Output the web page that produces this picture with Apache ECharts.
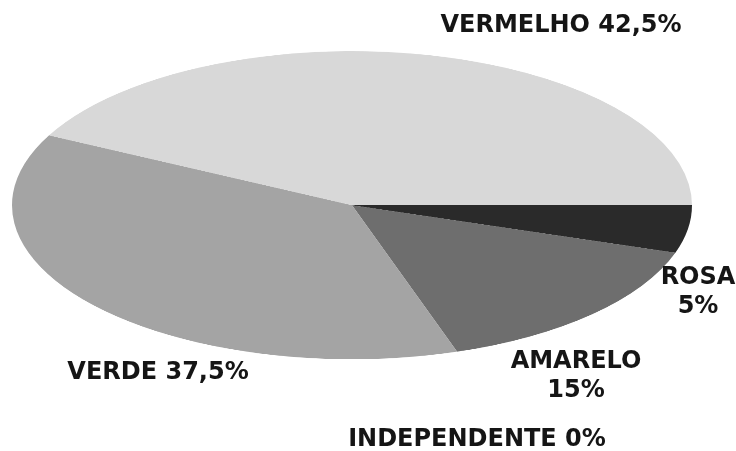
<!DOCTYPE html>
<html><head><meta charset="utf-8">
<script src="https://cdn.jsdelivr.net/npm/echarts@6/dist/echarts.min.js"></script>
<style>
html,body{margin:0;padding:0;background:#fff;width:736px;height:451px;overflow:hidden;position:relative}
#pie{position:absolute;left:0;top:23.8px;width:736px;height:800px;transform-origin:0 0;transform:scaleY(0.453);}
#labels{position:absolute;left:0;top:0;width:736px;height:451px;}
</style></head><body>
<div id="pie"></div><div id="labels"></div>
<script>
const categories = ['ROSA', 'AMARELO', 'VERDE', 'VERMELHO', 'INDEPENDENTE'];
const values = [5, 15, 37.5, 42.5, 0];
const sliceColors = ['#2a2a2a', '#6e6e6e', '#a4a4a4', '#d8d8d8', '#ffffff'];

function pct(v) { return String(v).replace('.', ',') + '%'; }

const pieChart = echarts.init(document.getElementById('pie'), null, {renderer: 'canvas'});
pieChart.setOption({
  animation: false,
  series: [{
    type: 'pie',
    center: [352, 400],
    radius: 340,
    startAngle: 0,
    clockwise: true,
    label: {show: false},
    labelLine: {show: false},
    emphasis: {disabled: true},
    itemStyle: {borderWidth: 0},
    data: categories.map((c, i) => ({name: c, value: values[i], itemStyle: {color: sliceColors[i]}}))
  }]
});

// label layout: [category index, center x, center y, split name/value on two lines]
const labelSpots = [
  [3, 561, 26, false],
  [0, 698, 292, true],
  [1, 576, 376, true],
  [2, 158, 373, false],
  [4, 477, 440, false]
];
const labelChart = echarts.init(document.getElementById('labels'), null, {renderer: 'canvas'});
labelChart.setOption({
  animation: false,
  graphic: labelSpots.map(s => ({
    type: 'text',
    x: s[1], y: s[2],
    style: {
      text: categories[s[0]] + (s[3] ? '\n' : ' ') + pct(values[s[0]]),
      fill: '#151515',
      font: 'bold 24px "DejaVu Sans"',
      textAlign: 'center',
      textVerticalAlign: 'middle',
      lineHeight: 29
    }
  }))
});
</script>
</body></html>
